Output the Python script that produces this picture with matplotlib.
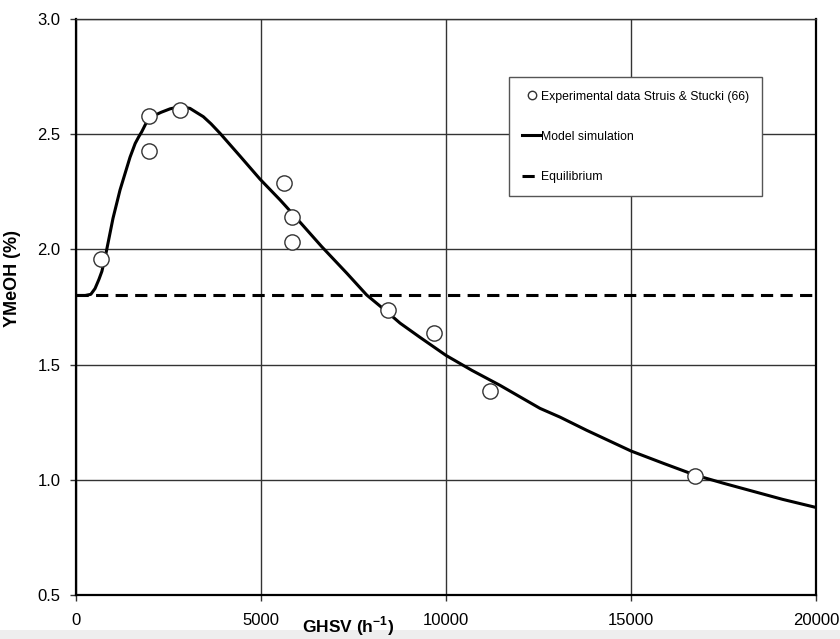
import matplotlib
matplotlib.use("Agg")
import matplotlib.pyplot as plt
from matplotlib.patches import Rectangle

# Experimental data (Struis & Stucki)
exp_ghsv = [676, 1965, 1965, 2819, 5630, 5830, 5830, 8425, 9668, 11199, 16740]
exp_y = [1.957, 2.579, 2.428, 2.606, 2.287, 2.139, 2.033, 1.737, 1.638, 1.387, 1.016]

# Model simulation curve
model_ghsv = [0, 250, 400, 514, 620, 700, 800, 1000, 1190, 1460, 1600, 1700, 1775,
              1900, 2100, 2300, 2541, 2819, 3081, 3250, 3441, 3650, 3892, 4433, 4973,
              5514, 5695, 6100, 6641, 7317, 7857, 8398, 8758, 9300, 10000, 10700,
              11460, 12000, 12541, 13082, 13800, 14400, 15000, 15900, 16740, 17500,
              18300, 19100, 20000]
model_y = [1.800, 1.800, 1.805, 1.830, 1.870, 1.905, 1.975, 2.135, 2.258, 2.400, 2.460,
           2.490, 2.510, 2.550, 2.580, 2.595, 2.610, 2.620, 2.612, 2.595, 2.576, 2.545,
           2.504, 2.405, 2.305, 2.215, 2.183, 2.110, 2.012, 1.897, 1.802, 1.730, 1.680,
           1.618, 1.540, 1.475, 1.410, 1.360, 1.310, 1.272, 1.215, 1.170, 1.125, 1.070,
           1.020, 0.985, 0.950, 0.915, 0.880]

# Equilibrium
eq_ghsv = [0, 20000]
eq_y = [1.80, 1.80]

xticks = [0, 5000, 10000, 15000, 20000]
yticks = [0.5, 1.0, 1.5, 2.0, 2.5, 3.0]

plt.rcParams['font.family'] = ['Liberation Sans', 'DejaVu Sans']
plt.rcParams['mathtext.fontset'] = 'custom'
plt.rcParams['mathtext.rm'] = 'Liberation Sans'
plt.rcParams['mathtext.bf'] = 'Liberation Sans:bold'

fig = plt.figure(figsize=(8.4, 6.39), dpi=100)
fig.patches.append(Rectangle((0, 0), 1, 9 / 639, transform=fig.transFigure,
                             facecolor='#eeeeee', edgecolor='none', zorder=-10))
ax = fig.add_axes([76 / 840, 1 - 595 / 639, 740 / 840, 576 / 639])

ax.plot(exp_ghsv, exp_y, linestyle='none', marker='o', markersize=11,
        markerfacecolor='white', markeredgecolor='#333333', markeredgewidth=1.0,
        label='Experimental data Struis & Stucki (66)', zorder=4)
ax.plot(model_ghsv, model_y, color='black', lw=2.2, label='Model simulation', zorder=3,
        solid_joinstyle='round')
ax.plot(eq_ghsv, eq_y, color='black', lw=2.2, linestyle=(0, (4, 2.4)),
        label='Equilibrium', zorder=3)

ax.set_xlim(0, 20000)
ax.set_ylim(0.5, 3.0)
ax.set_xticks(xticks)
ax.set_yticks(yticks)
ax.set_yticklabels([f"{v:.1f}" for v in yticks])
ax.grid(True, color='#333333', lw=1.0)
ax.set_axisbelow(True)
ax.tick_params(direction='out', length=4, width=1, labelsize=12, color='#333333')
ax.tick_params(axis='x', pad=9)
ax.tick_params(axis='y', pad=7)

for s in ['left', 'bottom', 'right']:
    ax.spines[s].set_color('black')
    ax.spines[s].set_linewidth(1.6)
ax.spines['top'].set_color('#333333')
ax.spines['top'].set_linewidth(1.0)

ax.set_xlabel(r'GHSV (h$^{\mathbf{-1}}$)', fontsize=12.5, fontweight='bold')
ax.xaxis.set_label_coords(0.368, -0.034)
ax.set_ylabel('YMeOH (%)', fontsize=13, fontweight='bold')
ax.yaxis.set_label_coords(-0.074, 0.55)

leg = ax.legend(loc='upper left', bbox_to_anchor=(0.585, 0.899), fontsize=8.8,
                frameon=True, fancybox=False, edgecolor='#555555', framealpha=1,
                borderpad=1.1, labelspacing=2.3, handlelength=1.5, handletextpad=0.0,
                markerscale=0.55, borderaxespad=0)
leg.get_frame().set_linewidth(1.0)

fig.savefig('out.png', dpi=100)
